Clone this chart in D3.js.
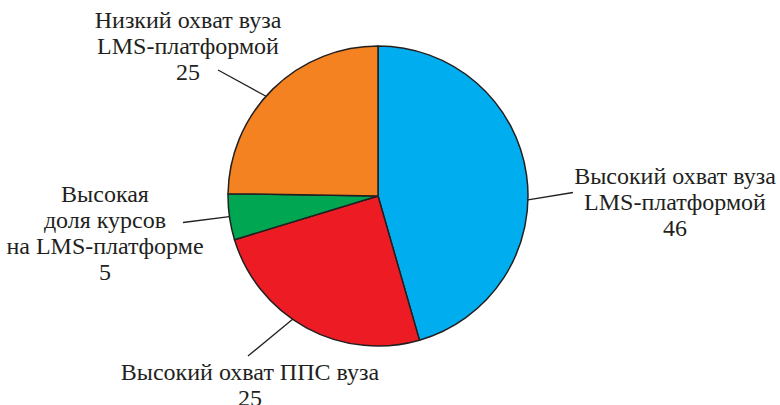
<!DOCTYPE html>
<html>
<head>
<meta charset="utf-8">
<script src="https://cdn.jsdelivr.net/npm/d3@7"></script>
<style>body { margin: 0; background: #fff; }</style>
</head>
<body>
<svg></svg>
<script>
// data, clockwise from the top
let categories = [
  ['Высокий охват вуза', 'LMS-платформой'],
  ['Высокий охват ППС вуза'],
  ['Высокая', 'доля курсов', 'на LMS-платформе'],
  ['Низкий охват вуза', 'LMS-платформой']
]
let values = [46, 25, 5, 25]
let colors = ['#00aeef', '#ed1c24', '#00a651', '#f58220']

let width = 780
let height = 405
let cx = 378
let cy = 196
let radius = 150

// where each label sits and where its leader line touches the pie
let labelLayout = [
  { x: 675, y: 184, angle: 91.5, lx: 573, ly: 192.5 },
  { x: 250, y: 380, angle: 214.7, lx: 248, ly: 356 },
  { x: 105, y: 202, angle: 262.1, lx: 183, ly: 222.5 },
  { x: 188, y: 27.5, angle: 311.7, lx: 218, ly: 70 }
]
let lineGap = 26

let svg = d3.select('svg')
  .attr('width', width)
  .attr('height', height)

let drawPie = () => {
  let pie = d3.pie().sort(null).value(d => d)
  let arc = d3.arc().innerRadius(0).outerRadius(radius)

  let g = svg.append('g')
    .attr('transform', 'translate(' + cx + ',' + cy + ')')

  g.selectAll('path')
    .data(pie(values))
    .enter()
    .append('path')
    .attr('d', arc)
    .attr('fill', (d, i) => colors[i])
    .attr('stroke', '#231f20')
    .attr('stroke-width', 1.5)
    .attr('stroke-linejoin', 'round')

  labelLayout.forEach((l) => {
    let p = d3.pointRadial(l.angle * Math.PI / 180, radius)
    svg.append('line')
      .attr('x1', cx + p[0])
      .attr('y1', cy + p[1])
      .attr('x2', l.lx)
      .attr('y2', l.ly)
      .attr('stroke', '#231f20')
      .attr('stroke-width', 1.3)
  })
}

let drawLabels = () => {
  labelLayout.forEach((l, i) => {
    let lines = categories[i].concat([String(values[i])])
    lines.forEach((s, k) => {
      svg.append('text')
        .attr('x', l.x)
        .attr('y', l.y + k * lineGap)
        .attr('text-anchor', 'middle')
        .style('font-family', "'Liberation Serif'")
        .style('font-size', '24px')
        .style('fill', '#231f20')
        .text(s)
    })
  })
}

drawPie()
if (document.fonts && document.fonts.load) {
  document.fonts.load("24px 'Liberation Serif'", 'Низкий LMS 25')
    .then(drawLabels, drawLabels)
} else {
  drawLabels()
}
</script>
</body>
</html>
